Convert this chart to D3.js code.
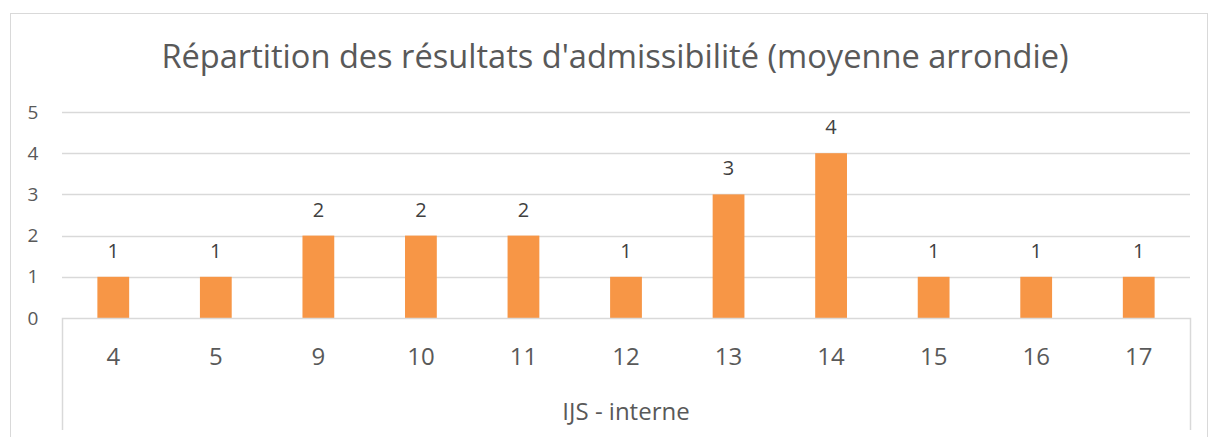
<!DOCTYPE html>
<html>
<head>
<meta charset="utf-8">
<script src="https://cdn.jsdelivr.net/npm/d3@7"></script>
<style>
  body { margin: 0; background: #fff; }
  text { font-family: "Open Sans", "Liberation Sans", sans-serif; }
</style>
</head>
<body>
<div id="chart"></div>
<script>
// data
var categories = ["4", "5", "9", "10", "11", "12", "13", "14", "15", "16", "17"];
var counts = [1, 1, 2, 2, 2, 1, 3, 4, 1, 1, 1];
var yTicks = [0, 1, 2, 3, 4, 5];
var groupLabel = "IJS - interne";
var title = "Répartition des résultats d'admissibilité (moyenne arrondie)";

var W = 1209, H = 437;
var plot = {left: 62, right: 1190, top: 112, bottom: 318};

var svg = d3.select("#chart").append("svg")
    .attr("width", W)
    .attr("height", H);

// chart frame
svg.append("rect")
    .attr("x", 10.5).attr("y", 13.5)
    .attr("width", 1197).attr("height", 440)
    .attr("fill", "none")
    .attr("stroke", "#d9d9d9");

svg.append("text")
    .attr("x", 615).attr("y", 68)
    .attr("text-anchor", "middle")
    .attr("font-size", 32.6)
    .attr("fill", "#595959")
    .text(title);

var x = d3.scaleBand()
    .domain(categories)
    .range([plot.left, plot.right])
    .paddingInner(0.69)
    .paddingOuter(0.345);

var y = d3.scaleLinear()
    .domain([0, 5])
    .range([plot.bottom, plot.top]);

// gridlines
svg.append("g")
    .selectAll("line")
    .data(yTicks.filter(d => d > 0))
    .enter().append("line")
    .attr("x1", plot.left).attr("x2", plot.right)
    .attr("y1", d => Math.round(y(d)) + 0.5)
    .attr("y2", d => Math.round(y(d)) + 0.5)
    .attr("stroke", "#d9d9d9")
    .attr("stroke-width", 1.5);

// y axis labels
var yAxis = svg.append("g")
    .attr("transform", "translate(" + (plot.left - 22) + ",0)")
    .call(d3.axisLeft(y).tickValues(yTicks).tickFormat(d3.format("d")).tickSize(0).tickPadding(0));
yAxis.select(".domain").remove();
yAxis.selectAll("text")
    .attr("text-anchor", "middle")
    .attr("x", -7)
    .attr("font-size", 19)
    .attr("fill", "#595959")
    .style("font-family", "\"Open Sans\", sans-serif");

// bars
svg.append("g")
    .selectAll("rect")
    .data(counts)
    .enter().append("rect")
    .attr("x", (d, i) => x(categories[i]))
    .attr("y", d => y(d))
    .attr("width", x.bandwidth())
    .attr("height", d => y(0) - y(d))
    .attr("fill", "#f79646");

// data labels
svg.append("g")
    .selectAll("text")
    .data(counts)
    .enter().append("text")
    .attr("x", (d, i) => x(categories[i]) + x.bandwidth() / 2)
    .attr("y", d => y(d) - 19)
    .attr("text-anchor", "middle")
    .attr("font-size", 20)
    .attr("fill", "#404040")
    .text(d => d);

// category axis with group box
var xAxis = svg.append("g")
    .attr("transform", "translate(0," + plot.bottom + ")")
    .call(d3.axisBottom(x).tickSize(0).tickPadding(30));
xAxis.select(".domain").remove();
xAxis.selectAll("text")
    .attr("font-size", 24)
    .attr("fill", "#595959")
    .style("font-family", "\"Open Sans\", sans-serif");

svg.append("path")
    .attr("d", "M" + (plot.left + 0.5) + ",430V" + (plot.bottom + 0.5) +
        "H" + (plot.right + 0.5) + "V430")
    .attr("fill", "none")
    .attr("stroke", "#d9d9d9")
    .attr("stroke-width", 1.5);

svg.append("text")
    .attr("x", (plot.left + plot.right) / 2)
    .attr("y", 420)
    .attr("text-anchor", "middle")
    .attr("font-size", 24)
    .attr("fill", "#595959")
    .text(groupLabel);
</script>
</body>
</html>
